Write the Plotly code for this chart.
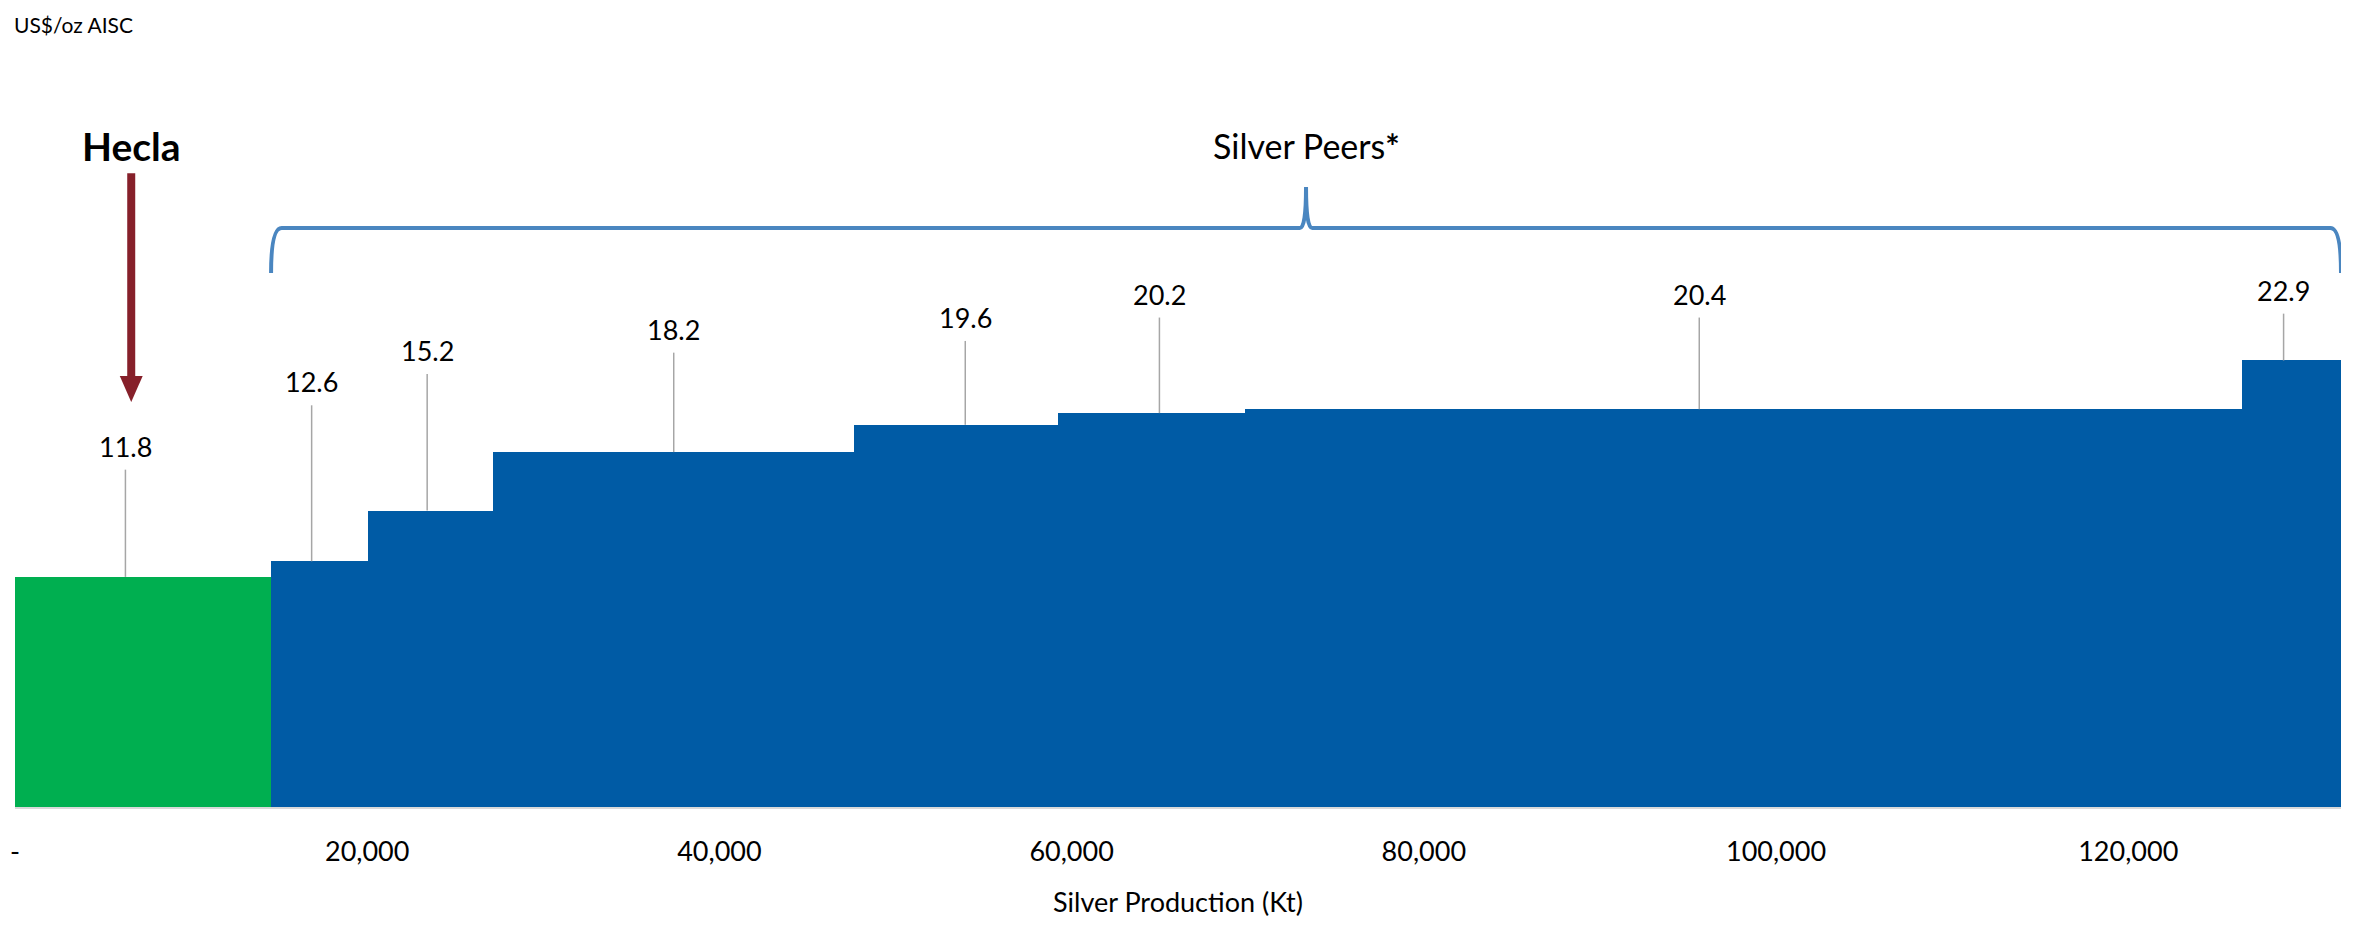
import plotly.graph_objects as go

# ---- data ----
companies = ["Hecla", "Peer 1", "Peer 2", "Peer 3", "Peer 4", "Peer 5", "Peer 6", "Peer 7"]
production_kt = [14540, 5530, 7070, 20530, 11580, 10570, 56640, 5620]   # bar widths (Kt)
aisc = [11.8, 12.6, 15.2, 18.2, 19.6, 20.2, 20.4, 22.9]                  # US$/oz AISC
tick_vals = [0, 20000, 40000, 60000, 80000, 100000, 120000]
tick_text = ["-", "20,000", "40,000", "60,000", "80,000", "100,000", "120,000"]

# ---- layout helpers (label placement, not data) ----
label_y = [18.5, 21.8, 23.4, 24.5, 25.1, 26.3, 26.3, 26.5]
label_shift = [-1000, -460, -200, 0, 500, 450, -2500, -450]

edges = [0]
for w in production_kt:
    edges.append(edges[-1] + w)
centers = [(edges[i] + edges[i + 1]) / 2 for i in range(len(production_kt))]
colors = ["#00AF50"] + ["#005BA5"] * (len(production_kt) - 1)

FONT = "Lato, 'Open Sans', sans-serif"

fig = go.Figure()
fig.add_trace(go.Bar(
    x=centers, y=aisc, width=production_kt,
    marker=dict(color=colors, line=dict(width=0)),
    hoverinfo="skip", showlegend=False,
))

# leader lines
lx, ly = [], []
for c, s, v, ly_ in zip(centers, label_shift, aisc, label_y):
    lx += [c + s, c + s, None]
    ly += [v, ly_ - 1.2, None]
fig.add_trace(go.Scatter(x=lx, y=ly, mode="lines",
                         line=dict(color="#A6A6A6", width=1.5),
                         hoverinfo="skip", showlegend=False))

annotations = []
for c, s, v, ly_ in zip(centers, label_shift, aisc, label_y):
    annotations.append(dict(x=c + s, y=ly_, xref="x", yref="y", text=f"{v:.1f}",
                            showarrow=False, xanchor="center", yanchor="middle",
                            font=dict(family=FONT, size=27, color="#000000")))

# Hecla arrow and title
hx = 6600
annotations.append(dict(x=hx, y=33.9, xref="x", yref="y", text="<b>Hecla</b>",
                        showarrow=False, xanchor="center", yanchor="middle",
                        font=dict(family=FONT, size=39, color="#000000")))
shapes = []
shapes.append(dict(type="line", xref="x", yref="y", x0=hx, x1=hx, y0=32.5, y1=22.0,
                   line=dict(color="#86202A", width=8)))
shapes.append(dict(type="path", xref="x", yref="y",
                   path=f"M {hx-650},22.1 L {hx+650},22.1 L {hx},20.77 Z",
                   fillcolor="#86202A", line=dict(width=0)))

# brace over peers
x0, x1 = edges[1], edges[-1]
mid = (x0 + x1) / 2
yb, yl, yt = 27.38, 29.69, 31.8
brace = (f"M {x0},{yb} Q {x0},{yl} {x0+600},{yl} "
         f"L {mid-350},{yl} Q {mid},{yl} {mid},{yt} "
         f"Q {mid},{yl} {mid+350},{yl} "
         f"L {x1-600},{yl} Q {x1},{yl} {x1},{yb}")
shapes.append(dict(type="path", xref="x", yref="y", path=brace,
                   line=dict(color="#4A86C0", width=4)))
annotations.append(dict(x=mid, y=33.9, xref="x", yref="y", text="Silver Peers<b>*</b>",
                        showarrow=False, xanchor="center", yanchor="middle",
                        font=dict(family=FONT, size=34, color="#000000")))

annotations.append(dict(x=0, y=1, xref="paper", yref="paper", text="US$/oz AISC",
                        showarrow=False, xanchor="left", yanchor="middle",
                        xshift=-3, yshift=3,
                        font=dict(family=FONT, size=21, color="#000000")))

fig.update_layout(
    width=2337, height=910,
    margin=dict(l=7, r=4, t=19, b=111),
    paper_bgcolor="white", plot_bgcolor="white",
    bargap=0,
    annotations=annotations, shapes=shapes,
    xaxis=dict(range=[0, edges[-1]], tickvals=tick_vals, ticktext=tick_text,
               showgrid=False, zeroline=False, showline=True, linecolor="#D9D9D9",
               linewidth=2, ticks="", ticklabelstandoff=20, automargin=False,
               tickfont=dict(family=FONT, size=27, color="#000000"),
               title=dict(text="Silver Production (Kt)", standoff=30,
                          font=dict(family=FONT, size=27, color="#000000"))),
    yaxis=dict(range=[0, 40], visible=False, showgrid=False, zeroline=False,
               automargin=False),
)

fig.write_html("out.html")
